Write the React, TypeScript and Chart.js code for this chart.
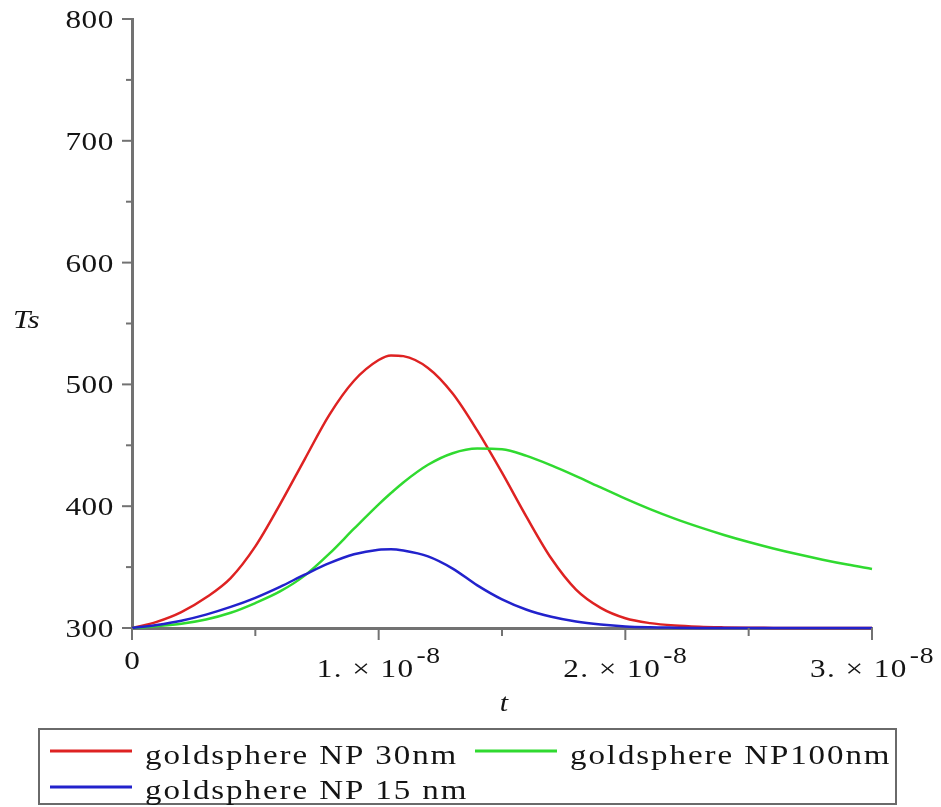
import React, { useEffect, useRef } from "react";
import { Chart, registerables } from "chart.js";

Chart.register(...registerables);

// Time samples (s)
const TIME_S = [
  0, 1e-9, 2e-9, 3e-9, 4e-9, 5e-9, 6e-9, 7e-9, 8e-9, 9e-9,
  1.0e-8, 1.05e-8, 1.1e-8, 1.2e-8, 1.3e-8, 1.4e-8, 1.5e-8, 1.6e-8, 1.7e-8, 1.8e-8, 1.9e-8,
  2.0e-8, 2.1e-8, 2.2e-8, 2.3e-8, 2.4e-8, 2.5e-8, 2.6e-8, 2.7e-8, 2.8e-8, 2.9e-8,
  3.0e-8,
];

// Surface temperature Ts (K) for each particle size
const TS_30NM = [
  300, 305, 313, 325, 341, 367, 401.5, 438.5, 475, 503,
  520, 523.8, 523.2, 513.5, 492.5, 462, 427.5, 391, 357, 331.5, 316.5,
  308, 304, 302, 301, 300.5, 300.2, 300.1, 300, 300, 300,
  300,
];

const TS_100NM = [
  300, 301.5, 303.5, 307, 312.5, 320.5, 330, 343, 361, 381.5,
  401.5, 410.8, 419.5, 434, 443.5, 447.3, 446.8, 441.3, 433.5, 424.7, 415.4,
  406.2, 397.6, 389.8, 382.8, 376.4, 370.6, 365.3, 360.5, 356.1, 352.1,
  348.5,
];

const TS_15NM = [
  300, 302.5, 306, 311, 317.3, 324.8, 333.8, 343.8, 353.2, 360.5,
  364.3, 364.7, 363.6, 358.8, 348.8, 335, 323.5, 315, 309.3, 305.4, 302.9,
  301.3, 300.6, 300.3, 300.1, 300, 300, 300, 300, 300, 300,
  300,
];

const SERIES_LABELS = ["goldsphere NP 30nm", "goldsphere NP100nm", "goldsphere NP 15 nm"];
const SERIES_COLORS = ["rgb(222,34,34)", "rgb(48,218,48)", "rgb(34,34,204)"];

const X_MIN = 0;
const X_MAX = 3e-8;
const X_STEP = 5e-9;
const X_MAJOR = 1e-8;
const Y_MIN = 300;
const Y_MAX = 800;
const Y_STEP = 50;
const Y_MAJOR = 100;

const FONT_FAMILY = '"Liberation Serif", "Times New Roman", serif';
const TEXT_COLOR = "#141414";
const AXIS_COLOR = "#727272";
const STRETCH = 1.2;

type Align = "left" | "center" | "right";

function textWidth(ctx: CanvasRenderingContext2D, text: string, size: number, italic: boolean, spacing: number) {
  ctx.save();
  ctx.font = `${italic ? "italic " : ""}${size}px ${FONT_FAMILY}`;
  (ctx as any).letterSpacing = `${spacing}px`;
  const w = ctx.measureText(text).width * STRETCH;
  ctx.restore();
  return w;
}

function drawText(
  ctx: CanvasRenderingContext2D,
  text: string,
  x: number,
  y: number,
  size: number,
  align: Align = "left",
  italic = false,
  spacing = 0
) {
  const w = textWidth(ctx, text, size, italic, spacing);
  const left = align === "center" ? x - w / 2 : align === "right" ? x - w : x;
  ctx.save();
  ctx.font = `${italic ? "italic " : ""}${size}px ${FONT_FAMILY}`;
  (ctx as any).letterSpacing = `${spacing}px`;
  ctx.fillStyle = TEXT_COLOR;
  ctx.textAlign = "left";
  ctx.textBaseline = "alphabetic";
  ctx.translate(left, y);
  ctx.scale(STRETCH, 1);
  ctx.fillText(text, 0, 0);
  ctx.restore();
}

const isMultiple = (v: number, m: number) => Math.abs(v / m - Math.round(v / m)) < 1e-6;

// Axis ticks, tick labels, axis titles and the boxed legend
const decorations = {
  id: "decorations",
  afterDraw(chart: Chart) {
    const ctx = chart.ctx;
    const xs = chart.scales.x;
    const ys = chart.scales.y;
    const area = chart.chartArea;

    ctx.save();
    ctx.strokeStyle = AXIS_COLOR;
    ctx.lineWidth = 2;

    // y ticks (outside, to the left)
    ys.ticks.forEach((t) => {
      const py = ys.getPixelForValue(t.value);
      const major = isMultiple(t.value, Y_MAJOR);
      ctx.beginPath();
      ctx.moveTo(area.left, py);
      ctx.lineTo(area.left - (major ? 10 : 6), py);
      ctx.stroke();
      if (major) {
        drawText(ctx, String(t.value), 114, py + 9, 26, "right", false, 0.5);
      }
    });

    // x ticks (outside, below)
    xs.ticks.forEach((t) => {
      const px = xs.getPixelForValue(t.value);
      const major = isMultiple(t.value, X_MAJOR);
      ctx.beginPath();
      ctx.moveTo(px, area.bottom);
      ctx.lineTo(px, area.bottom + (major ? 12 : 8));
      ctx.stroke();
      if (major) {
        const k = Math.round(t.value / X_MAJOR);
        if (k === 0) {
          drawText(ctx, "0", px, 669, 26, "center");
        } else {
          const base = `${k}. × 10`;
          const sup = "-8";
          const wb = textWidth(ctx, base, 26, false, 1.2);
          const ws = textWidth(ctx, sup, 23, false, 0.5);
          const gap = 2;
          const left = px - (wb + gap + ws) / 2;
          drawText(ctx, base, left, 677, 26, "left", false, 1.2);
          drawText(ctx, sup, left + wb + gap, 663, 23, "left", false, 0.5);
        }
      }
    });
    ctx.restore();

    // axis titles
    drawText(ctx, "Ts", 13, 328, 26, "left", true);
    drawText(ctx, "t", (area.left + area.right) / 2 + 2, 711, 25, "center", true);

    // legend box
    ctx.save();
    ctx.strokeStyle = "#6a6a6a";
    ctx.lineWidth = 2;
    ctx.strokeRect(39, 729, 857, 75);
    const slots = [
      { lx: 50, tx: 145, ly: 751, ty: 764 },
      { lx: 475, tx: 570, ly: 751, ty: 764 },
      { lx: 50, tx: 145, ly: 787, ty: 799 },
    ];
    chart.data.datasets.forEach((ds, i) => {
      const s = slots[i];
      ctx.strokeStyle = ds.borderColor as string;
      ctx.lineWidth = 3;
      ctx.beginPath();
      ctx.moveTo(s.lx, s.ly);
      ctx.lineTo(s.lx + 82, s.ly);
      ctx.stroke();
      drawText(ctx, ds.label as string, s.tx, s.ty, 27.5, "left", false, 1.6);
    });
    ctx.restore();
  },
};

export default function App() {
  const canvasRef = useRef<HTMLCanvasElement | null>(null);

  useEffect(() => {
    if (!canvasRef.current) return;
    const series = [TS_30NM, TS_100NM, TS_15NM];
    const chart = new Chart(canvasRef.current, {
      type: "line",
      data: {
        datasets: series.map((vals, i) => ({
          label: SERIES_LABELS[i],
          data: TIME_S.map((t, j) => ({ x: t, y: vals[j] })),
          borderColor: SERIES_COLORS[i],
          backgroundColor: SERIES_COLORS[i],
          borderWidth: 2.5,
          pointRadius: 0,
          cubicInterpolationMode: "monotone" as const,
          fill: false,
          clip: 8,
          order: 2 - i,
        })),
      },
      options: {
        animation: false,
        responsive: false,
        events: [],
        layout: { padding: { left: 124, right: 69, top: 19, bottom: 171 } },
        plugins: {
          legend: { display: false },
          tooltip: { enabled: false },
          title: { display: false },
        },
        scales: {
          x: {
            type: "linear",
            min: X_MIN,
            max: X_MAX,
            ticks: { display: false, stepSize: X_STEP },
            grid: { display: false },
            border: { display: true, color: AXIS_COLOR, width: 3 },
          },
          y: {
            type: "linear",
            min: Y_MIN,
            max: Y_MAX,
            ticks: { display: false, stepSize: Y_STEP },
            grid: { display: false },
            border: { display: true, color: AXIS_COLOR, width: 3 },
          },
        },
      },
      plugins: [decorations],
    });
    return () => chart.destroy();
  }, []);

  return (
    <div style={{ position: "fixed", left: 0, top: 0, width: 941, height: 807, background: "#fff" }}>
      <canvas ref={canvasRef} width={941} height={807} />
    </div>
  );
}
